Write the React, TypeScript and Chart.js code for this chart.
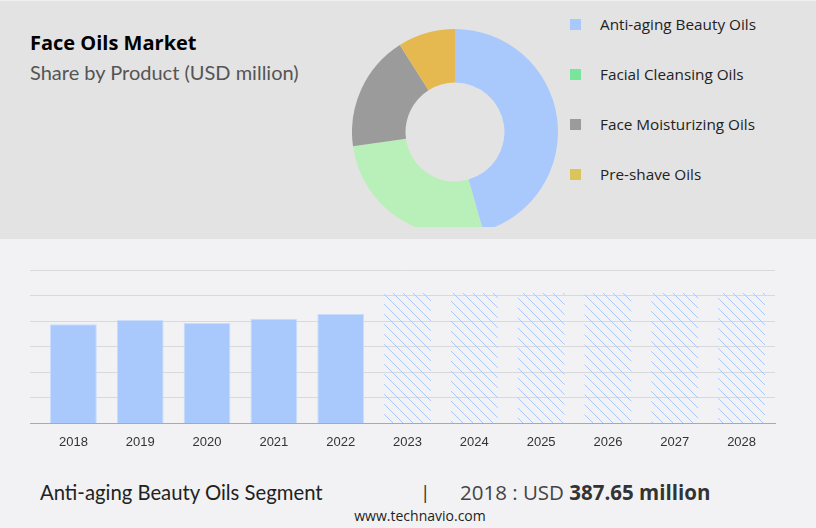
import React, { useEffect, useRef } from "react";
import { Chart, registerables } from "chart.js";

Chart.register(...registerables);

// share by product (donut)
const products = ["Anti-aging Beauty Oils", "Facial Cleansing Oils", "Face Moisturizing Oils", "Pre-shave Oils"];
const shares = [45.6, 27.2, 18.2, 9.0];
const sliceColors = ["#a9c9fd", "#b9efb9", "#9b9b9b", "#e6b950"];
const legendColors = ["#a9c9fd", "#79e49b", "#9b9b9b", "#dcc35a"];

// segment values by year (USD million)
const years = ["2018", "2019", "2020", "2021", "2022", "2023", "2024", "2025", "2026", "2027", "2028"];
const history = [387.65, 404, 393, 409, 428, null, null, null, null, null, null];
const forecast = [null, null, null, null, null, 510, 510, 510, 510, 510, 510];

const makeHatch = () => {
  const c = document.createElement("canvas");
  c.width = 10;
  c.height = 10;
  const ctx = c.getContext("2d")!;
  ctx.strokeStyle = "#a9c9fd";
  ctx.lineWidth = 1;
  ctx.beginPath();
  ctx.moveTo(-1, -1);
  ctx.lineTo(11, 11);
  ctx.moveTo(-1, 9);
  ctx.lineTo(1, 11);
  ctx.moveTo(9, -1);
  ctx.lineTo(11, 1);
  ctx.stroke();
  return ctx.createPattern(c, "repeat")!;
};

const Donut = () => {
  const ref = useRef<HTMLCanvasElement>(null);
  useEffect(() => {
    if (!ref.current) return;
    const chart = new Chart(ref.current, {
      type: "doughnut",
      data: {
        labels: products,
        datasets: [{ data: shares, backgroundColor: sliceColors, borderWidth: 0 }],
      },
      options: {
        animation: false,
        responsive: true,
        maintainAspectRatio: false,
        cutout: "48%",
        plugins: { legend: { display: false }, tooltip: { enabled: false } },
      },
    });
    return () => chart.destroy();
  }, []);
  return <canvas ref={ref} />;
};

const Bars = () => {
  const ref = useRef<HTMLCanvasElement>(null);
  useEffect(() => {
    if (!ref.current) return;
    const chart = new Chart(ref.current, {
      type: "bar",
      data: {
        labels: years,
        datasets: [
          {
            data: history,
            backgroundColor: "#a9c9fd",
            borderColor: "#c9dcfb",
            borderWidth: 1,
            barPercentage: 0.7,
            categoryPercentage: 1,
            grouped: false,
          },
          {
            data: forecast,
            backgroundColor: makeHatch(),
            borderWidth: 0,
            barPercentage: 0.7,
            categoryPercentage: 1,
            grouped: false,
          },
        ],
      },
      options: {
        animation: false,
        responsive: true,
        maintainAspectRatio: false,
        layout: { padding: { left: 10, right: 9, top: 10, bottom: 7 } },
        plugins: { legend: { display: false }, tooltip: { enabled: false } },
        scales: {
          x: {
            grid: { display: false },
            border: { color: "#aaaaaa", width: 1 },
            ticks: { color: "#333333", font: { family: "Liberation Sans", size: 13 }, padding: 3 },
          },
          y: {
            min: 0,
            max: 600,
            ticks: { stepSize: 100, display: false },
            grid: {
              color: (c: any) => (c.tick && c.tick.value === 0 ? "#aaaaaa" : "#d9d9db"),
              drawTicks: true,
              tickLength: 10,
            },
            border: { display: false },
          },
        },
      },
    });
    return () => chart.destroy();
  }, []);
  return <canvas ref={ref} />;
};

export default function App() {
  return (
    <div style={{ position: "fixed", left: 0, top: 0, width: 816, height: 528, background: "#f2f2f4", overflow: "hidden" }}>
      <div style={{ position: "absolute", left: 0, top: 0, width: 816, height: 238, background: "#e3e3e3", borderTop: "1px solid #f0f0f0" }} />
      <div style={{ position: "absolute", left: 30, top: 29, fontFamily: "Open Sans", fontWeight: 700, fontSize: 20, color: "#000" }}>
        Face Oils Market
      </div>
      <div style={{ position: "absolute", left: 30, top: 60, fontFamily: "Lato", fontSize: 20, color: "#555" }}>
        Share by Product (USD million)
      </div>
      <div style={{ position: "absolute", left: 352, top: 29, width: 206, height: 198, overflow: "hidden" }}>
        <div style={{ position: "relative", width: 206, height: 206 }}>
          <Donut />
        </div>
      </div>
      {products.map((p, i) => (
        <div key={p} style={{ position: "absolute", left: 570, top: 25 + i * 50 - 12, height: 22, display: "flex", alignItems: "center" }}>
          <div style={{ width: 11, height: 11, background: legendColors[i] }} />
          <div style={{ marginLeft: 19, fontFamily: "Open Sans", fontSize: 15.3, color: "#222" }}>{p}</div>
        </div>
      ))}
      <div style={{ position: "absolute", left: 20, top: 260, width: 764, height: 200 }}>
        <Bars />
      </div>
      <div style={{ position: "absolute", left: 40, top: 480, fontFamily: "Lato", fontSize: 20.3, color: "#222" }}>
        Anti-aging Beauty Oils Segment
      </div>
      <div style={{ position: "absolute", left: 420, top: 479, fontFamily: "Open Sans", fontSize: 19, color: "#333" }}>|</div>
      <div style={{ position: "absolute", left: 460, top: 478, fontFamily: "Open Sans", fontSize: 20.5, color: "#444" }}>
        2018 : USD <b style={{ color: "#333" }}>387.65 million</b>
      </div>
      <div style={{ position: "absolute", left: 0, width: 840, top: 506, textAlign: "center", fontFamily: "Open Sans", fontSize: 14, color: "#222" }}>
        www.technavio.com
      </div>
    </div>
  );
}
